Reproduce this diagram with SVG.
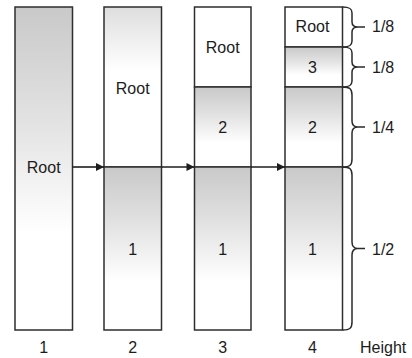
<svg xmlns="http://www.w3.org/2000/svg" width="412" height="358" viewBox="0 0 412 358">
  <style>
    .cell { stroke: #2e2e2e; stroke-width: 1.5; }
    .shade { fill: url(#shade); }
    .light { fill: url(#light); }
    .plain { fill: #ffffff; }
    .lbl { font-family: "Liberation Sans", Arial, sans-serif; font-size: 16px; fill: #1c1c1c; text-anchor: middle; }
    .side { font-family: "Liberation Sans", Arial, sans-serif; font-size: 16px; fill: #1c1c1c; }
    .conn { stroke: #1e1e1e; stroke-width: 1.6; fill: none; }
    .brace { stroke: #2a2a2a; stroke-width: 1.5; fill: none; }
  </style>
  <defs>
    <linearGradient id="shade" x1="0" y1="0" x2="0" y2="1">
      <stop offset="0" stop-color="#c9c9c9"/>
      <stop offset="0.35" stop-color="#e2e2e2"/>
      <stop offset="0.7" stop-color="#ffffff"/>
      <stop offset="1" stop-color="#ffffff"/>
    </linearGradient>
    <linearGradient id="light" x1="0" y1="0" x2="0" y2="1">
      <stop offset="0" stop-color="#dedede"/>
      <stop offset="0.4" stop-color="#ffffff"/>
      <stop offset="1" stop-color="#ffffff"/>
    </linearGradient>
    <marker id="head" viewBox="0 0 10 10" refX="10" refY="5" markerWidth="10" markerHeight="8" markerUnits="userSpaceOnUse" orient="auto">
      <path d="M0,0 L10,5 L0,10 z" fill="#1e1e1e"/>
    </marker>
  </defs>

  <!-- stage 1: the whole tree as a single block -->
  <g id="stage1">
    <rect class="cell shade" x="15" y="7" width="57.5" height="323"/>
    <text class="lbl" x="43.7" y="173">Root</text>
    <text class="lbl" x="43.7" y="353">1</text>
  </g>

  <!-- stage 2: split into halves -->
  <g id="stage2">
    <rect class="cell light" x="104" y="7" width="57.5" height="160"/>
    <rect class="cell shade" x="104" y="167" width="57.5" height="163"/>
    <text class="lbl" x="132.7" y="94">Root</text>
    <text class="lbl" x="132.7" y="255">1</text>
    <text class="lbl" x="132.7" y="353">2</text>
  </g>

  <!-- stage 3 -->
  <g id="stage3">
    <rect class="cell plain" x="194.5" y="7" width="56.5" height="80"/>
    <rect class="cell shade" x="194.5" y="87" width="56.5" height="80"/>
    <rect class="cell shade" x="194.5" y="167" width="56.5" height="163"/>
    <text class="lbl" x="222.7" y="53">Root</text>
    <text class="lbl" x="222.7" y="133">2</text>
    <text class="lbl" x="222.7" y="255">1</text>
    <text class="lbl" x="222.7" y="353">3</text>
  </g>

  <!-- stage 4 -->
  <g id="stage4">
    <rect class="cell plain" x="285" y="7" width="57.5" height="40"/>
    <rect class="cell shade" x="285" y="47" width="57.5" height="40"/>
    <rect class="cell shade" x="285" y="87" width="57.5" height="80"/>
    <rect class="cell shade" x="285" y="167" width="57.5" height="163"/>
    <text class="lbl" x="312.5" y="32">Root</text>
    <text class="lbl" x="312.5" y="73">3</text>
    <text class="lbl" x="312.5" y="133">2</text>
    <text class="lbl" x="312.5" y="255">1</text>
    <text class="lbl" x="312.5" y="353">4</text>
  </g>

  <!-- height braces -->
  <g id="heights">
    <path class="brace" d="M342.5,7 C350,7 352,9 352,13 L352,22 C352,25 354,27 358,27 L365,27 M358,27 C354,27 352,29 352,32 L352,41 C352,45 350,47 342.5,47"/>
    <path class="brace" d="M342.5,47 C350,47 352,49 352,53 L352,62 C352,65 354,67 358,67 L365,67 M358,67 C354,67 352,69 352,72 L352,81 C352,85 350,87 342.5,87"/>
    <path class="brace" d="M342.5,87 C350,87 352,89 352,95 L352,121 C352,125 354,127 358,127 L365,127 M358,127 C354,127 352,129 352,133 L352,159 C352,165 350,167 342.5,167"/>
    <path class="brace" d="M342.5,167 C350,167 352,169 352,175 L352,242 C352,246 354,248.5 358,248.5 L365,248.5 M358,248.5 C354,248.5 352,251 352,255 L352,322 C352,328 350,330 342.5,330"/>
    <text class="side" x="372" y="32">1/8</text>
    <text class="side" x="372" y="73">1/8</text>
    <text class="side" x="372" y="133">1/4</text>
    <text class="side" x="372" y="255">1/2</text>
    <text class="side" x="360" y="353">Height</text>
  </g>

  <!-- connectors between stages -->
  <g id="connectors">
    <line class="conn" x1="72.5" y1="167" x2="104" y2="167" marker-end="url(#head)"/>
    <line class="conn" x1="161.5" y1="167" x2="194.5" y2="167" marker-end="url(#head)"/>
    <line class="conn" x1="251" y1="167" x2="285" y2="167" marker-end="url(#head)"/>
  </g>
</svg>
